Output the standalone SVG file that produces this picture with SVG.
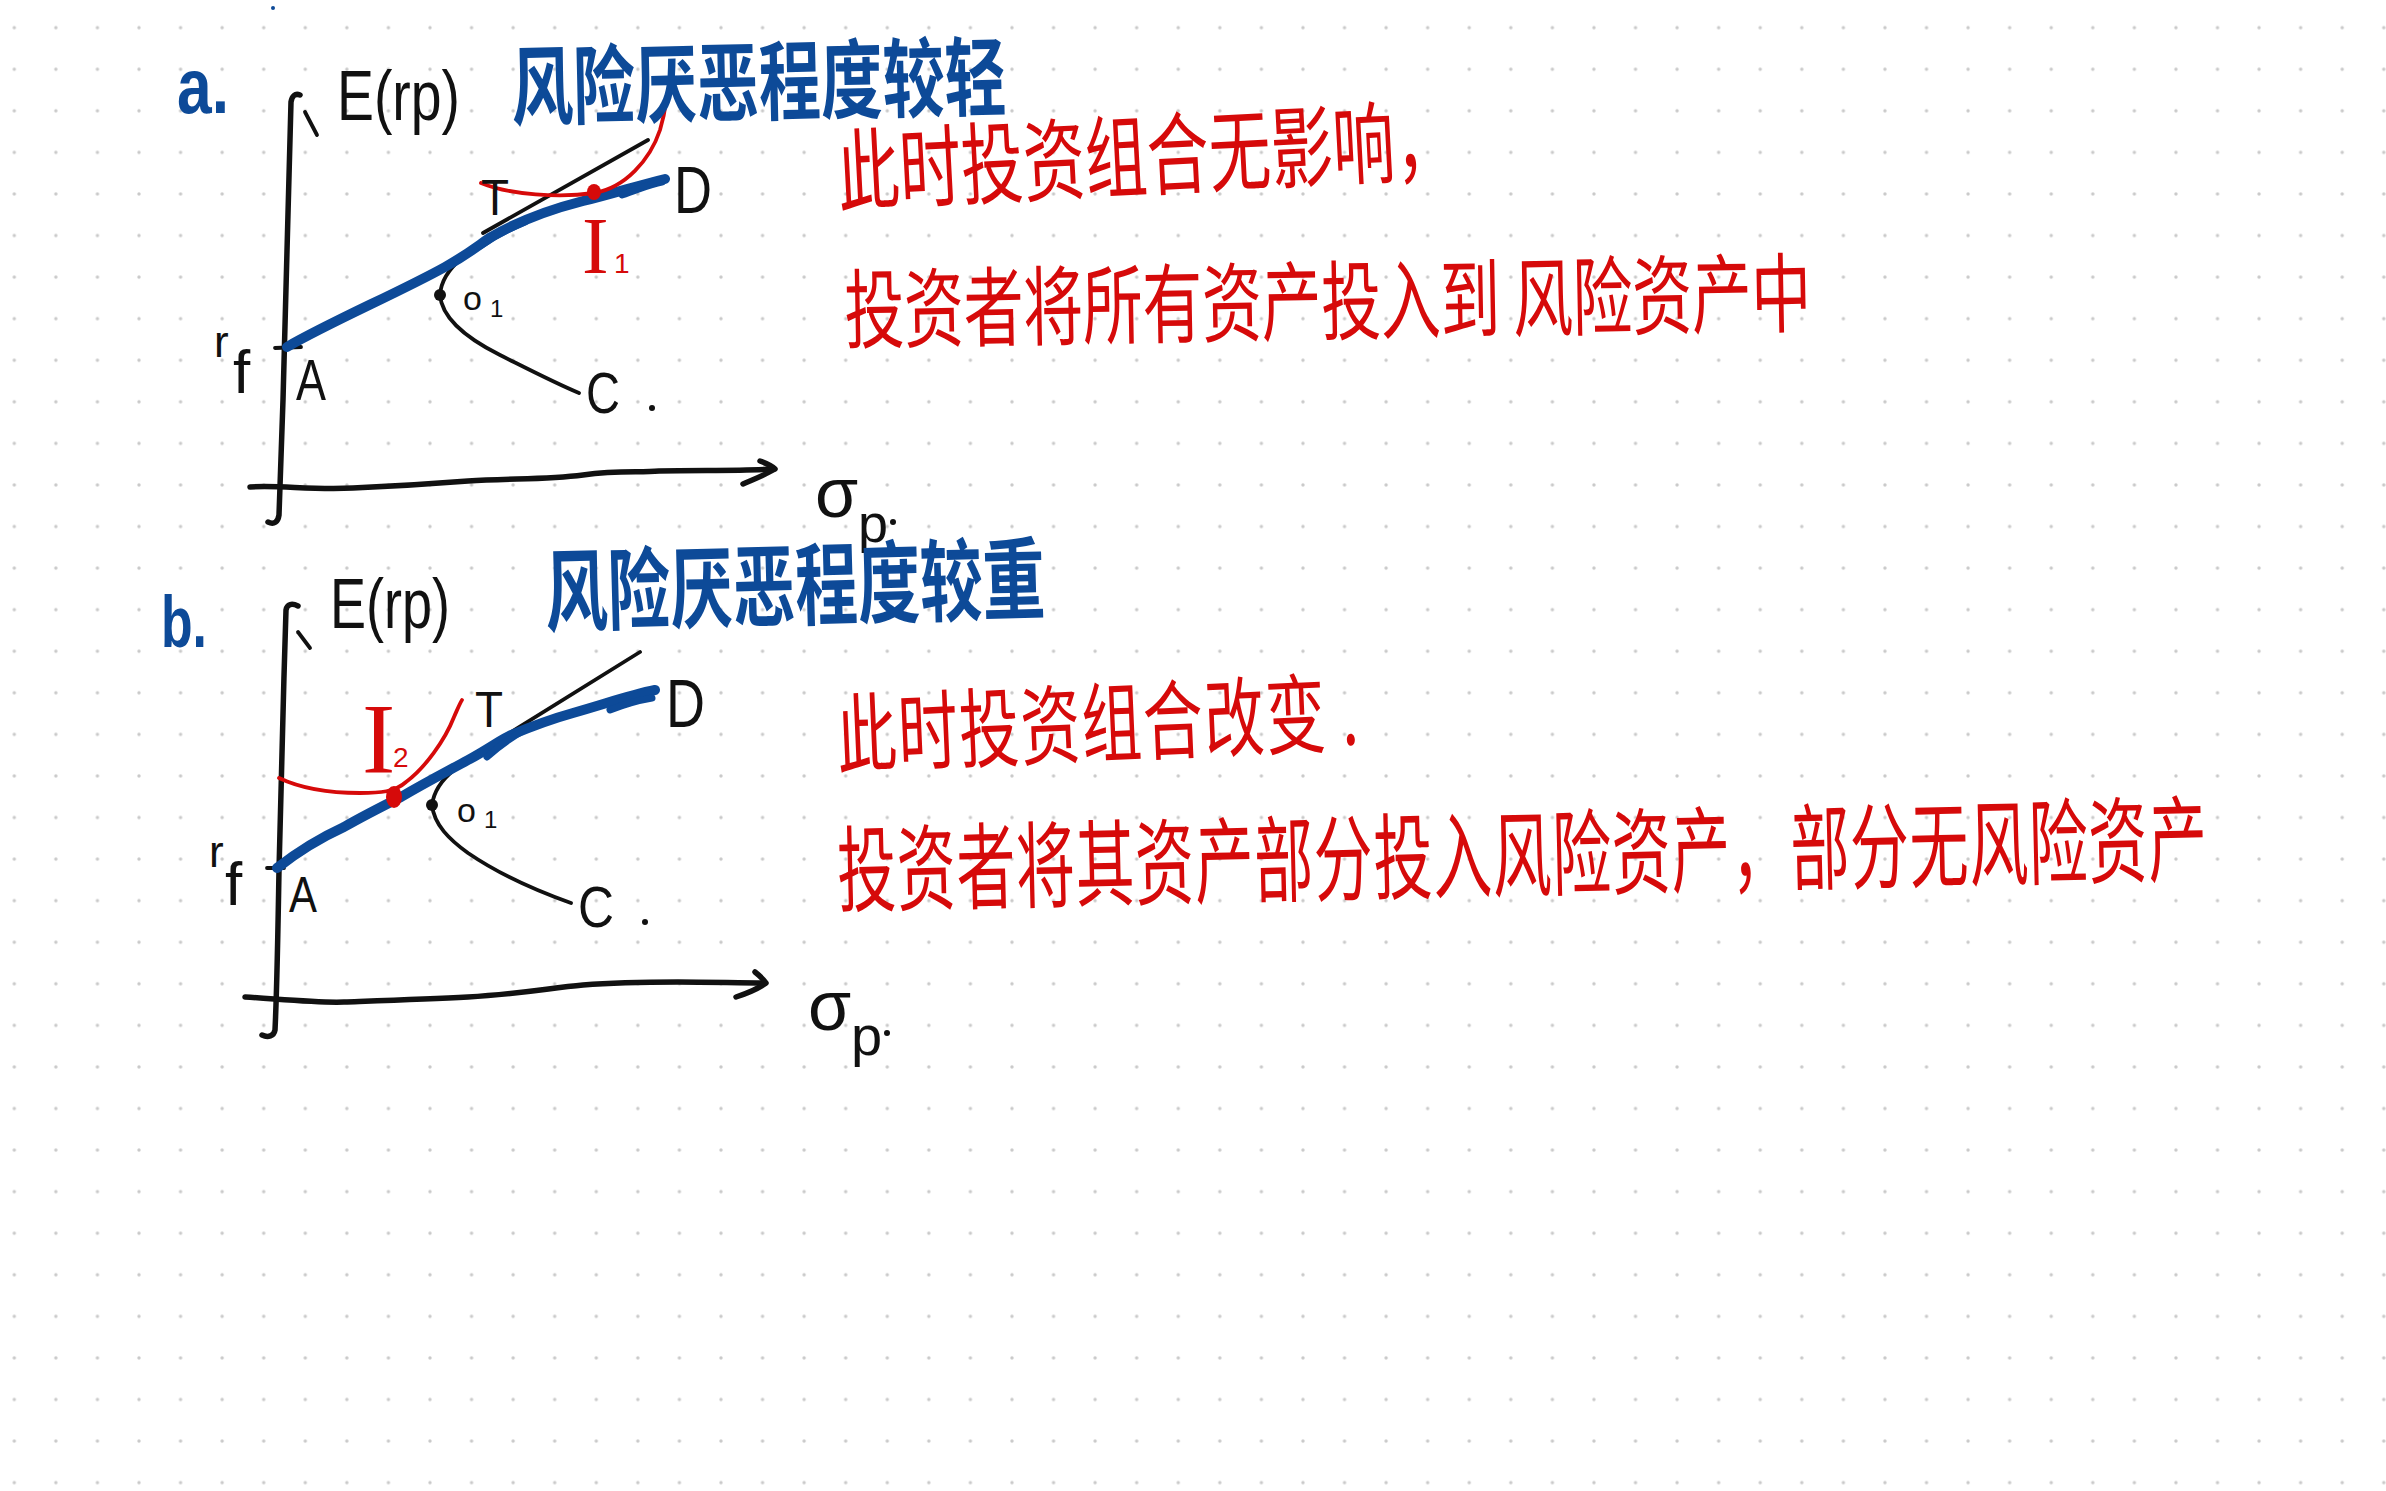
<svg xmlns="http://www.w3.org/2000/svg" width="2386" height="1491" viewBox="0 0 2386 1491">
<defs>
<pattern id="dots" x="-6.5" y="6.9" width="41.57" height="41.57" patternUnits="userSpaceOnUse"><circle cx="20.8" cy="20.8" r="1.7" fill="#c9c9c9"/></pattern>
</defs>
<style>
.ink{fill:none;stroke:#111;stroke-linecap:round;stroke-linejoin:round}
.ax{stroke-width:5.5}
.thin{stroke-width:3.8}
.blue{fill:none;stroke:#0d4a98;stroke-width:10;stroke-linecap:round;stroke-linejoin:round}
.redc{fill:none;stroke:#d60a0a;stroke-width:3.8;stroke-linecap:round}
.lbl{font-family:"Liberation Sans",Arial,sans-serif;fill:#111}
.serif{font-family:"Liberation Serif","Times New Roman",serif}
.cjk{font-family:"Noto Sans CJK SC",sans-serif}
.bt{fill:#0d4a98;font-weight:700}
.rt{fill:#d60a0a}
.rl{fill:#d60a0a}
</style>
<rect width="2386" height="1491" fill="#fff"/>
<rect width="2386" height="1491" fill="url(#dots)"/>
<circle cx="273" cy="8" r="2" fill="#0d4a98"/>

<g id="panel-a">
  <g id="a-axes">
    <path class="ink ax" d="M 300 95 C 295 93 292 96 291 102 C 289 200 286 300 283 400 C 281 450 280 490 279 515 C 278 522 274 525 268 522"/>
    <path class="ink thin" d="M 305 112 L 317 135"/>
    <path class="ink ax" d="M 250 487 C 280 485 310 490 353 488 C 400 486 430 484 468 481 C 510 478 545 480 583 475 C 620 470 640 473 659 471 C 700 470 740 471 774 469"/>
    <path class="ink ax" d="M 760 461 C 768 464 772 466 775 469 C 765 475 752 480 743 484"/>
    <path class="ink thin" d="M 275 348 L 301 347"/>
  </g>
  <g id="a-curves">
    <path class="ink thin" d="M 483 233 L 648 140"/>
    <path class="ink thin" d="M 462 258 C 450 268 441 280 440 295 C 442 320 470 340 500 355 C 530 370 555 383 579 393"/>
    <circle cx="440" cy="295" r="6" fill="#111"/>
    <path class="blue" d="M 287 347 C 330 322 400 292 445 267 C 470 253 480 244 491 237 C 510 226 540 212 583 201 C 615 193 640 185 665 179"/>
    <path class="blue" style="stroke-width:7" d="M 480 246 C 495 236 510 228 525 222"/>
    <path class="blue" style="stroke-width:7" d="M 622 195 C 640 189 650 184 662 182"/>
    <path class="redc" d="M 481 183 C 510 195 560 198 594 193 C 625 188 650 160 660 130 C 663 120 665 110 666 102"/>
    <ellipse cx="594" cy="192" rx="7" ry="8" fill="#d60a0a"/>
  </g>
  <g id="a-labels">
    <text class="bt" x="177" y="113" font-family="Liberation Sans, sans-serif" font-size="78" textLength="52" lengthAdjust="spacingAndGlyphs">a.</text>
    <text class="lbl" x="337" y="120" font-size="70" textLength="123" lengthAdjust="spacingAndGlyphs">E(rp)</text>
    <text class="lbl" x="214" y="357" font-size="44">r<tspan x="233" y="393" font-size="62">f</tspan></text>
    <text class="lbl" x="296" y="400" font-size="58" textLength="30" lengthAdjust="spacingAndGlyphs">A</text>
    <text class="lbl" x="481" y="215" font-size="50" textLength="28" lengthAdjust="spacingAndGlyphs">T</text>
    <text class="lbl" x="674" y="213" font-size="66" textLength="38" lengthAdjust="spacingAndGlyphs">D</text>
    <text class="lbl" x="463" y="310" font-size="34">o<tspan x="490" y="317" font-size="24">1</tspan></text>
    <text class="lbl" x="586" y="413" font-size="58" textLength="34" lengthAdjust="spacingAndGlyphs">C</text>
    <circle cx="652" cy="408" r="3" fill="#111"/>
    <text class="serif rl" x="582" y="273" font-size="80">I<tspan class="lbl rl" x="614" y="273" font-size="28">1</tspan></text>
    <text class="lbl" x="815" y="517" font-size="70">σ<tspan x="858" y="542" font-size="54">p</tspan></text>
    <circle cx="893" cy="522" r="3" fill="#111"/>
  </g>
  <g id="a-notes">
    <text class="cjk bt" font-size="62" transform="translate(512,119) rotate(-1.2) scale(1,1.4)" textLength="495" lengthAdjust="spacingAndGlyphs">风险厌恶程度较轻</text>
    <text class="cjk rt" font-size="60" transform="translate(839,205) rotate(-3) scale(1,1.5)" textLength="620" lengthAdjust="spacingAndGlyphs">此时投资组合无影响，</text>
    <text class="cjk rt" font-size="60" transform="translate(845,342) rotate(-1) scale(1,1.45)" textLength="967" lengthAdjust="spacing">投资者将所有资产投入到 风险资产中</text>
  </g>
</g>

<g id="panel-b">
  <g id="b-axes">
    <path class="ink ax" d="M 298 606 C 292 603 287 604 286 610 C 283 700 281 800 279 870 C 278 930 277 990 275 1030 C 274 1036 268 1038 262 1035"/>
    <path class="ink thin" d="M 298 632 L 310 648"/>
    <path class="ink ax" d="M 245 997 C 290 1000 320 1003 344 1002 C 400 1000 430 999 468 997 C 520 994 550 988 583 985 C 620 982 650 982 678 982 C 710 982 740 983 765 983"/>
    <path class="ink ax" d="M 755 972 C 760 976 764 980 766 983 C 758 989 745 994 736 997"/>
    <path class="ink thin" d="M 267 868 L 284 868"/>
  </g>
  <g id="b-curves">
    <path class="ink thin" d="M 487 747 L 640 652"/>
    <path class="ink thin" d="M 454 770 C 444 778 434 790 432 805 C 434 825 450 840 468 853 C 490 868 520 885 571 903"/>
    <circle cx="432" cy="805" r="6" fill="#111"/>
    <path class="blue" d="M 277 868 C 300 850 320 838 344 827 C 365 815 385 805 401 797 C 430 780 450 770 468 760 C 490 748 500 740 511 735 C 535 725 555 718 573 713 C 605 704 630 695 655 690"/>
    <path class="blue" style="stroke-width:7" d="M 487 757 C 500 745 512 737 526 729"/>
    <path class="blue" style="stroke-width:7" d="M 610 710 C 625 704 640 700 652 698"/>
    <path class="redc" d="M 279 778 C 300 788 330 793 360 793 C 380 793 395 792 406 782 C 425 768 445 740 454 717 C 458 708 460 703 462 700"/>
    <ellipse cx="394" cy="797" rx="8" ry="11" fill="#d60a0a"/>
  </g>
  <g id="b-labels">
    <text class="bt" x="161" y="647" font-family="Liberation Sans, sans-serif" font-size="72" textLength="46" lengthAdjust="spacingAndGlyphs">b.</text>
    <text class="lbl" x="330" y="628" font-size="70" textLength="120" lengthAdjust="spacingAndGlyphs">E(rp)</text>
    <text class="lbl" x="209" y="867" font-size="44">r<tspan x="225" y="905" font-size="62">f</tspan></text>
    <text class="lbl" x="289" y="912" font-size="50" textLength="28" lengthAdjust="spacingAndGlyphs">A</text>
    <text class="lbl" x="475" y="727" font-size="50" textLength="28" lengthAdjust="spacingAndGlyphs">T</text>
    <text class="lbl" x="666" y="727" font-size="68" textLength="39" lengthAdjust="spacingAndGlyphs">D</text>
    <text class="lbl" x="457" y="822" font-size="34">o<tspan x="484" y="828" font-size="24">1</tspan></text>
    <text class="lbl" x="578" y="927" font-size="58" textLength="36" lengthAdjust="spacingAndGlyphs">C</text>
    <circle cx="645" cy="922" r="3" fill="#111"/>
    <text class="serif rl" x="362" y="772" font-size="100">I<tspan class="lbl rl" x="393" y="767" font-size="28">2</tspan></text>
    <text class="lbl" x="808" y="1030" font-size="70">σ<tspan x="851" y="1055" font-size="56">p</tspan></text>
    <circle cx="887" cy="1033" r="3" fill="#111"/>
  </g>
  <g id="b-notes">
    <text class="cjk bt" font-size="60" transform="translate(546,625) rotate(-1.5) scale(1,1.5)" textLength="500" lengthAdjust="spacingAndGlyphs">风险厌恶程度较重</text>
    <text class="cjk rt" font-size="60" transform="translate(838,767) rotate(-2.5) scale(1,1.45)" textLength="522" lengthAdjust="spacing">此时投资组合改变 .</text>
    <text class="cjk rt" font-size="59" transform="translate(838,905) rotate(-1.3) scale(1,1.6)" textLength="1370" lengthAdjust="spacing">投资者将其资产部分投入风险资产，部分无风险资产</text>
  </g>
</g>
</svg>
